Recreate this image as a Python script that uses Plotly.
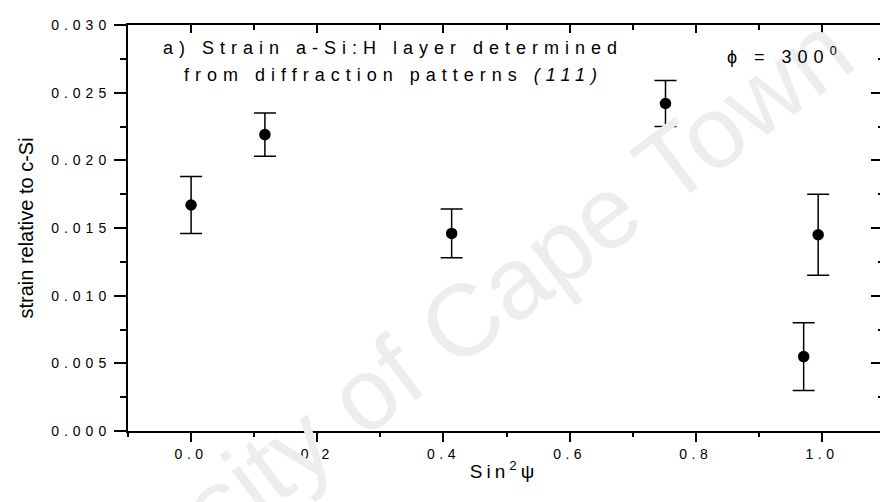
import plotly.graph_objects as go

# ---- data ----
sin2psi = [0.0, 0.117, 0.413, 0.752, 0.994, 0.971]
strain = [0.0167, 0.0219, 0.0146, 0.0242, 0.0145, 0.0055]
strain_err = [0.0021, 0.0016, 0.0018, 0.0017, 0.0030, 0.0025]

x_tick_vals = [0.0, 0.2, 0.4, 0.6, 0.8, 1.0]
x_tick_labels = ["0.0", "0.2", "0.4", "0.6", "0.8", "1.0"]
y_tick_vals = [0.000, 0.005, 0.010, 0.015, 0.020, 0.025, 0.030]
y_tick_labels = ["0.000", "0.005", "0.010", "0.015", "0.020", "0.025", "0.030"]

FONT = "Arial, 'Liberation Sans', Helvetica, sans-serif"


def spaced(s, px):
    return f'<span style="letter-spacing:{px}px">{s}</span>'


XR = [-0.1, 1.092]
YR = [0.0, 0.030]

fig = go.Figure()
fig.add_trace(go.Scatter(
    x=sin2psi, y=strain, mode="markers",
    marker=dict(symbol="circle", size=11.5, color="black"),
    error_y=dict(type="data", array=strain_err, visible=True,
                 color="black", thickness=1.5, width=11),
    showlegend=False, hoverinfo="x+y",
))
# carrier trace for the mirrored (top / right) axes
fig.add_trace(go.Scatter(x=[], y=[], xaxis="x2", yaxis="y2", showlegend=False))

fig.update_layout(
    width=880, height=502,
    margin=dict(l=128, r=0, t=25, b=71),
    paper_bgcolor="white", plot_bgcolor="white",
    font=dict(family=FONT, color="black", size=14),
    xaxis=dict(
        range=XR, showgrid=False, zeroline=False,
        showline=True, linecolor="black", linewidth=2,
        ticks="outside", ticklen=9, tickwidth=2, tickcolor="black",
        tickmode="array", tickvals=x_tick_vals,
        ticktext=[spaced(t, 4.5) for t in x_tick_labels],
        tickfont=dict(size=14),
        minor=dict(dtick=0.1, tick0=0, ticks="outside", ticklen=4,
                   tickwidth=2, tickcolor="black", showgrid=False),
        title=dict(text=spaced("Sin<sup>2</sup>ψ", 4), font=dict(size=19),
                   standoff=4),
    ),
    yaxis=dict(
        range=YR, showgrid=False, zeroline=False,
        showline=True, linecolor="black", linewidth=2,
        ticks="outside", ticklen=12, tickwidth=2, tickcolor="black",
        tickmode="array", tickvals=y_tick_vals,
        ticktext=[spaced(t, 5) for t in y_tick_labels],
        tickfont=dict(size=14),
        minor=dict(dtick=0.0025, tick0=0, ticks="outside", ticklen=6,
                   tickwidth=2, tickcolor="black", showgrid=False),
        title=dict(text="strain relative to c-Si", font=dict(size=20),
                   standoff=12),
    ),
    xaxis2=dict(
        overlaying="x", side="top", anchor="y", range=XR,
        showgrid=False, zeroline=False, showticklabels=False,
        showline=True, linecolor="black", linewidth=2,
        ticks="inside", ticklen=8, tickwidth=2, tickcolor="black",
        tick0=0, dtick=0.2,
        minor=dict(dtick=0.1, tick0=0, ticks="inside", ticklen=5,
                   tickwidth=2, tickcolor="black", showgrid=False),
    ),
    yaxis2=dict(
        overlaying="y", side="right", anchor="x", range=YR,
        showgrid=False, zeroline=False, showticklabels=False,
        showline=False,
        ticks="inside", ticklen=9, tickwidth=2, tickcolor="black",
        tick0=0, dtick=0.005,
        minor=dict(dtick=0.0025, tick0=0, ticks="inside", ticklen=2,
                   tickwidth=2, tickcolor="black", showgrid=False),
    ),
)

# watermark
fig.add_annotation(
    text="University of Cape Town", xref="paper", yref="paper",
    x=(400 - 128) / 752, y=(431 - 368) / 406, xanchor="center", yanchor="middle",
    textangle=-37, showarrow=False,
    font=dict(size=102, color="#ededed", family=FONT),
)

fig.add_annotation(
    text=spaced("a) Strain a-Si:H layer determined", 6),
    xref="paper", yref="paper", x=0.3524, y=0.9434,
    xanchor="center", yanchor="middle", showarrow=False,
    font=dict(size=18),
)
fig.add_annotation(
    text=spaced("from diffraction patterns <i>(111)</i>", 6),
    xref="paper", yref="paper", x=0.3524, y=0.877,
    xanchor="center", yanchor="middle", showarrow=False,
    font=dict(size=18),
)
fig.add_annotation(
    text=spaced("ϕ = 300<sup>0</sup>", 6),
    xref="paper", yref="paper", x=(725 - 128) / 752, y=(431 - 56) / 406,
    xanchor="left", yanchor="middle", showarrow=False,
    font=dict(size=18),
)

fig.write_html("out.html")
